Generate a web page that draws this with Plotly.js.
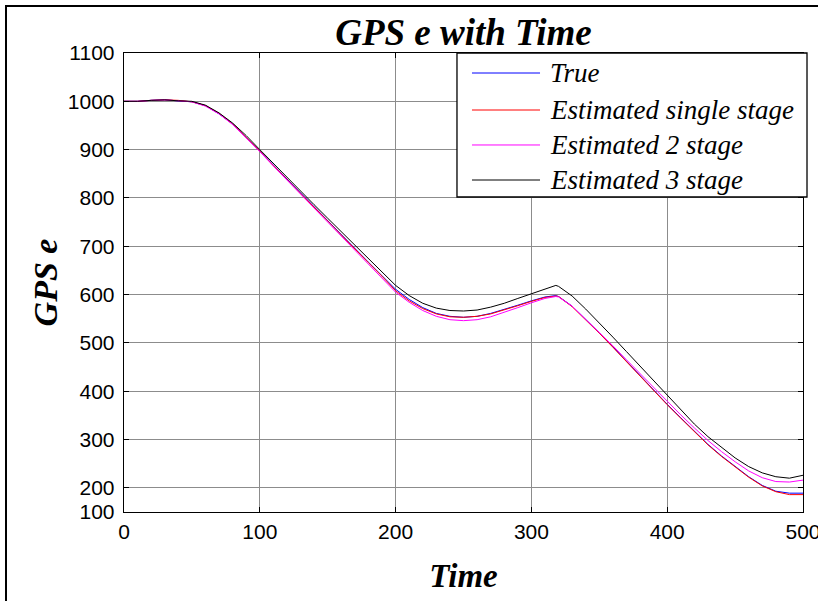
<!DOCTYPE html>
<html>
<head>
<meta charset="utf-8">
<script src="https://cdn.plot.ly/plotly-3.0.1.min.js"></script>
<style>
  html, body { margin: 0; padding: 0; background: #fff; overflow: hidden; }
  #wrap { position: relative; width: 818px; height: 601px; overflow: hidden; }
  #chart { position: absolute; left: 0; top: 0; width: 818px; height: 601px; }
  #frame { position: absolute; left: 5px; top: 5px; width: 900px; height: 700px;
           border-left: 2px solid #000; border-top: 2px solid #000; pointer-events: none; }
</style>
</head>
<body>
<div id="wrap">
  <div id="chart"></div>
  <div id="frame"></div>
</div>
<script>
// ---- data ----
const time = [0,10,20,30,40,50,60,70,80,90,100,110,120,130,140,150,160,170,180,190,200,
              210,220,230,240,250,260,270,280,290,300,310,318,320,330,340,350,360,370,380,390,
              400,410,420,430,440,450,460,470,480,490,500];

const trueVals = [1000,1000,1002,1003,1001,999,991,974,953,926,897,868,839,810,781,752,723,695,667,639,611,
                  590,573,561,555,553,555,561,569,578,587,595,598,596,576,549,521,492,462,432,402,
                  373,345,317,290,266,244,223,205,193,189,189];

const single = [1000,1000,1002,1003,1002,999,991,975,953,926,897,867,838,809,780,751,722,694,666,638,608,
                587,571,560,554,553,555,560,568,577,586,594,597,596,575,548,520,491,461,431,401,
                372,344,316,289,265,243,222,204,192,186,186];

const stage2 = [1000,1000,1002,1003,1001,999,990,974,952,925,896,866,837,808,779,750,721,692,664,635,605,
                584,567,555,548,546,548,554,563,573,583,592,596,595,576,549,522,494,465,436,407,
                379,351,324,298,275,254,235,221,213,212,216];

const stage3 = [1000,1000,1002,1003,1001,1000,992,976,955,929,900,871,843,815,786,758,730,702,675,647,619,
                598,582,572,567,566,568,574,582,592,602,612,619,617,597,570,542,512,482,452,421,
                390,360,332,306,283,262,244,231,223,220,226];

const seriesNames = ['True', 'Estimated single stage', 'Estimated 2 stage', 'Estimated 3 stage'];
const seriesColors = ['#0000ff', '#ff0000', '#ff00ff', '#000000'];
const seriesData = [trueVals, single, stage2, stage3];

const xTicks = [0, 100, 200, 300, 400, 500];
const yTickVals = [150, 200, 300, 400, 500, 600, 700, 800, 900, 1000, 1100];
const yTickText = ['100', '200', '300', '400', '500', '600', '700', '800', '900', '1000', '1100'];

// ---- traces ----
const traces = seriesData.map((ys, i) => ({
  x: time, y: ys, type: 'scatter', mode: 'lines',
  name: seriesNames[i], showlegend: false,
  line: { color: seriesColors[i], width: 1 }
}));

const serif = 'Liberation Serif, Times New Roman, serif';
const sans = 'Liberation Sans, Arial, sans-serif';

// ---- legend box drawn in paper coordinates (MATLAB-style legend) ----
const legBox = { x0: 0.4904, x1: 1.0059, y0: 0.6863, y1: 1.0 };
const legRows = [0.9564, 0.8758, 0.7996, 0.7233];
const legLine = { x0: 0.5125, x1: 0.6127 };
const legTextX = 0.6244;

const shapes = [{
  type: 'rect', xref: 'paper', yref: 'paper', layer: 'above',
  x0: legBox.x0, x1: legBox.x1, y0: legBox.y0, y1: legBox.y1,
  fillcolor: '#ffffff', line: { color: '#000', width: 1.3 }
}];
const annotations = [];
seriesNames.forEach((name, i) => {
  shapes.push({
    type: 'line', xref: 'paper', yref: 'paper', layer: 'above',
    x0: legLine.x0, x1: legLine.x1, y0: legRows[i], y1: legRows[i],
    line: { color: seriesColors[i], width: 1 }
  });
  annotations.push({
    text: name, xref: 'paper', yref: 'paper', x: legTextX, y: legRows[i],
    xanchor: 'left', yanchor: 'middle', showarrow: false,
    font: { family: serif, size: 27, color: '#000', style: 'italic' }
  });
});

const layout = {
  width: 818, height: 601,
  margin: { l: 124, r: 15, t: 53, b: 89 },
  paper_bgcolor: '#ffffff', plot_bgcolor: '#ffffff',
  showlegend: false,
  shapes: shapes,
  annotations: annotations,
  title: {
    text: 'GPS e with Time',
    font: { family: serif, size: 37, color: '#000', weight: 'bold', style: 'italic' },
    x: 0.5, xref: 'paper', xanchor: 'center',
    y: 1 - 32 / 601, yref: 'container', yanchor: 'middle'
  },
  xaxis: {
    range: [0, 500], tickvals: xTicks, ticktext: xTicks.map(String),
    ticklabeloverflow: 'allow',
    showgrid: true, gridcolor: '#8c8c8c', gridwidth: 1,
    zeroline: false, showline: true, linecolor: '#000', linewidth: 1.3,
    mirror: 'ticks', ticks: 'inside', ticklen: 5, tickcolor: '#000',
    tickfont: { family: sans, size: 21, color: '#000' },
    title: { text: 'Time', standoff: 22,
      font: { family: serif, size: 33, color: '#000', weight: 'bold', style: 'italic' } }
  },
  yaxis: {
    range: [150, 1100], tickvals: yTickVals, ticktext: yTickText,
    ticklabeloverflow: 'allow', ticklabelstandoff: 4,
    showgrid: true, gridcolor: '#8c8c8c', gridwidth: 1,
    zeroline: false, showline: true, linecolor: '#000', linewidth: 1.3,
    mirror: 'ticks', ticks: 'inside', ticklen: 5, tickcolor: '#000',
    tickfont: { family: sans, size: 21, color: '#000' },
    title: { text: 'GPS e', standoff: 0,
      font: { family: serif, size: 34, color: '#000', weight: 'bold', style: 'italic' } }
  }
};

Plotly.newPlot('chart', traces, layout, { displayModeBar: false, staticPlot: true });
</script>
</body>
</html>
